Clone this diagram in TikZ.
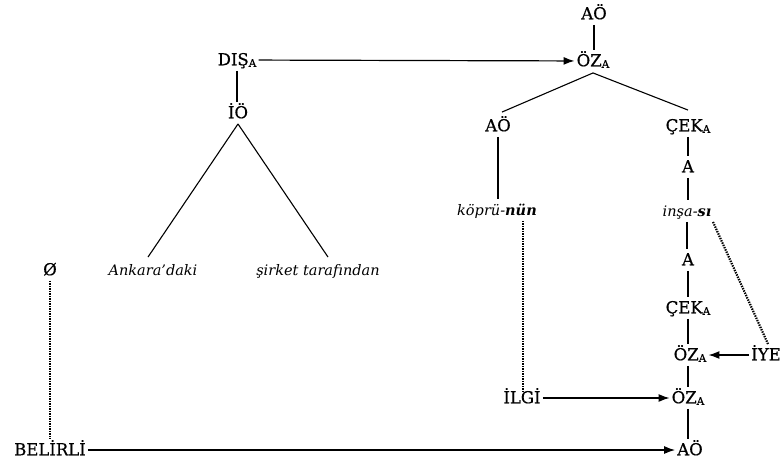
\documentclass[tikz,border=0pt]{standalone}
\usepackage{fontspec}
\setmainfont{DejaVu Serif}
\newfontfamily\capfont[FakeBold=0.5]{DejaVu Serif}
\usetikzlibrary{arrows.meta}
\newcommand\subA{\raisebox{-1.5pt}{\fontsize{10.5}{11}\selectfont A}}
\tikzset{
  lab/.style={inner xsep=2pt, inner ysep=4.5pt, text height=11.5pt, text depth=1pt, font=\capfont\fontsize{16.5}{18}\selectfont},
  itlab/.style={lab, font=\fontsize{14.5}{16}\selectfont\itshape},
  conn/.style={line width=1.1pt},
  arr/.style={line width=1.2pt, -{Latex[length=11pt,width=8pt]}},
  dots/.style={line width=2.2pt, dash pattern=on 1.4pt off 1.1pt},
}
\begin{document}
\begin{tikzpicture}[x=1pt,y=-1pt]
\useasboundingbox (0,0) rectangle (784,466);
% nodes
\node[lab] (aotop) at (594,14) {AÖ};
\node[lab] (oz1) at (593,61) {ÖZ\subA};
\node[lab] (dis) at (237,60) {DIŞ\subA};
\node[lab] (io) at (238,113) {İÖ};
\node[itlab] (ank) at (153,270) {Ankara’daki};
\node[itlab] (sir) at (318,270) {şirket tarafından};
\node[lab] (bos) at (50,270) {Ø};
\node[lab] (ao2) at (498,126) {AÖ};
\node[lab] (cek1) at (688,126) {ÇEK\subA};
\node[lab] (a1) at (688,167) {A};
\node[itlab] (kop) at (497,210) {köprü-\textbf{nün}};
\node[itlab] (insa) at (687,211) {inşa-\textbf{sı}};
\node[lab] (a2) at (688,260) {A};
\node[lab] (cek2) at (688,308) {ÇEK\subA};
\node[lab] (oz2) at (690,355) {ÖZ\subA};
\node[lab] (iye) at (766,355) {İYE};
\node[lab] (ilgi) at (522,398) {İLGİ};
\node[lab] (oz3) at (688,398) {ÖZ\subA};
\node[lab] (bel) at (50,450) {BELİRLİ};
\node[lab] (ao3) at (690,450) {AÖ};
% solid connectors
\draw[conn] (aotop.south) -- (aotop.south |- oz1.north);
\draw[conn] (dis.south) -- (dis.south |- io.north);
\draw[conn] (io.south) -- ([xshift=-5pt,yshift=2pt]ank.north);
\draw[conn] (io.south) -- ([xshift=10pt,yshift=2pt]sir.north);
\draw[conn] ([yshift=-1pt]oz1.south) -- ([xshift=4pt,yshift=3pt]ao2.north);
\draw[conn] ([yshift=-1pt]oz1.south) -- ([yshift=5pt]cek1.north);
\draw[conn] (ao2.south) -- (ao2.south |- kop.north);
\draw[conn] (cek1.south) -- (cek1.south |- a1.north);
\draw[conn] (a1.south) -- (a1.south |- insa.north);
\draw[conn] (insa.south) -- (insa.south |- a2.north);
\draw[conn] (a2.south) -- (a2.south |- cek2.north);
\draw[conn] (cek2.south) -- (cek2.south |- oz2.north);
\draw[conn] (oz3.north |- oz2.south) -- (oz3.north);
\draw[conn] (oz3.south) -- (oz3.south |- ao3.north);
% arrows
\draw[arr] (dis) -- (oz1);
\draw[arr] (bel) -- (ao3);
\draw[arr] (ilgi) -- (oz3);
\draw[arr] (iye) -- (oz2);
% dotted
\draw[dots] (bos.south) -- (bos.south |- bel.north);
\draw[dots] ([xshift=26pt]kop.south) -- ([xshift=26pt,yshift=-5pt]kop.south |- ilgi.north);
\draw[dots] ([xshift=26pt]insa.south) -- ([xshift=2pt]iye.north);
\end{tikzpicture}
\end{document}
